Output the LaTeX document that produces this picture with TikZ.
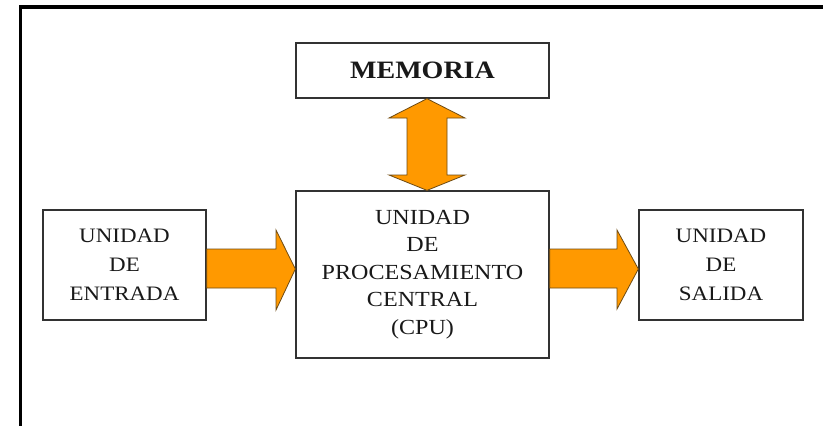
\documentclass[tikz,border=0pt]{standalone}
\usepackage{fontspec}
\setmainfont{Liberation Serif}[FakeStretch=1.12]
\usetikzlibrary{calc}
\definecolor{arrorange}{RGB}{255,153,0}
\definecolor{arredge}{RGB}{110,75,20}
\definecolor{boxedge}{RGB}{50,50,50}
\tikzset{
  unitbox/.style={draw=boxedge, line width=1.3pt, fill=white, inner sep=0pt, align=center, anchor=center, text=black!90},
  bigarrow/.style={fill=arrorange, draw=arredge, line width=0.8pt, line join=miter},
  frameline/.style={line width=3.5pt, draw=black}
}
\begin{document}
\begin{tikzpicture}[x=1pt,y=-1pt]
\useasboundingbox (0,0) rectangle (823,426);
\fill[white] (0,0) rectangle (823,426);
% outer frame (left and top edges)
\coordinate (fc) at (20.5,7);
\coordinate (fb) at (20.5,426);
\coordinate (fr) at (823,7);
\draw[frameline] (fb) -- (fc) -- (fr);
% boxes
\node[unitbox, minimum width=253pt, minimum height=55pt, font=\fontsize{25}{28}\selectfont\bfseries] (mem) at (422.5,70.5) {MEMORIA};
\node[unitbox, minimum width=253pt, minimum height=167pt, font=\fontsize{21.5}{27.5}\selectfont] (cpu) at (422.5,274.5) {UNIDAD\\DE\\PROCESAMIENTO\\CENTRAL\\(CPU)};
\node[unitbox, minimum width=163pt, minimum height=110pt, font=\fontsize{20.5}{29}\selectfont] (ent) at (124.5,265) {UNIDAD\\DE\\ENTRADA};
\node[unitbox, minimum width=164pt, minimum height=110pt, font=\fontsize{20.5}{29}\selectfont] (sal) at (721,265) {UNIDAD\\DE\\SALIDA};
% arrow: entrada -> cpu
\draw[bigarrow] (ent.east |- 0,249) -- (276,249) -- (276,230) -- (cpu.west |- 0,269) -- (276,310) -- (276,288) -- (ent.east |- 0,288) -- cycle;
% arrow: cpu -> salida
\draw[bigarrow] (cpu.east |- 0,249) -- (617,249) -- (617,230) -- (sal.west |- 0,269) -- (617,309) -- (617,288) -- (cpu.east |- 0,288) -- cycle;
% double arrow: memoria <-> cpu
\draw[bigarrow] (mem.south -| 427,0) -- (465,118) -- (447,118) -- (447,175) -- (465,175) -- (cpu.north -| 427,0) -- (389,175) -- (407,175) -- (407,118) -- (389,118) -- cycle;
\end{tikzpicture}
\end{document}
